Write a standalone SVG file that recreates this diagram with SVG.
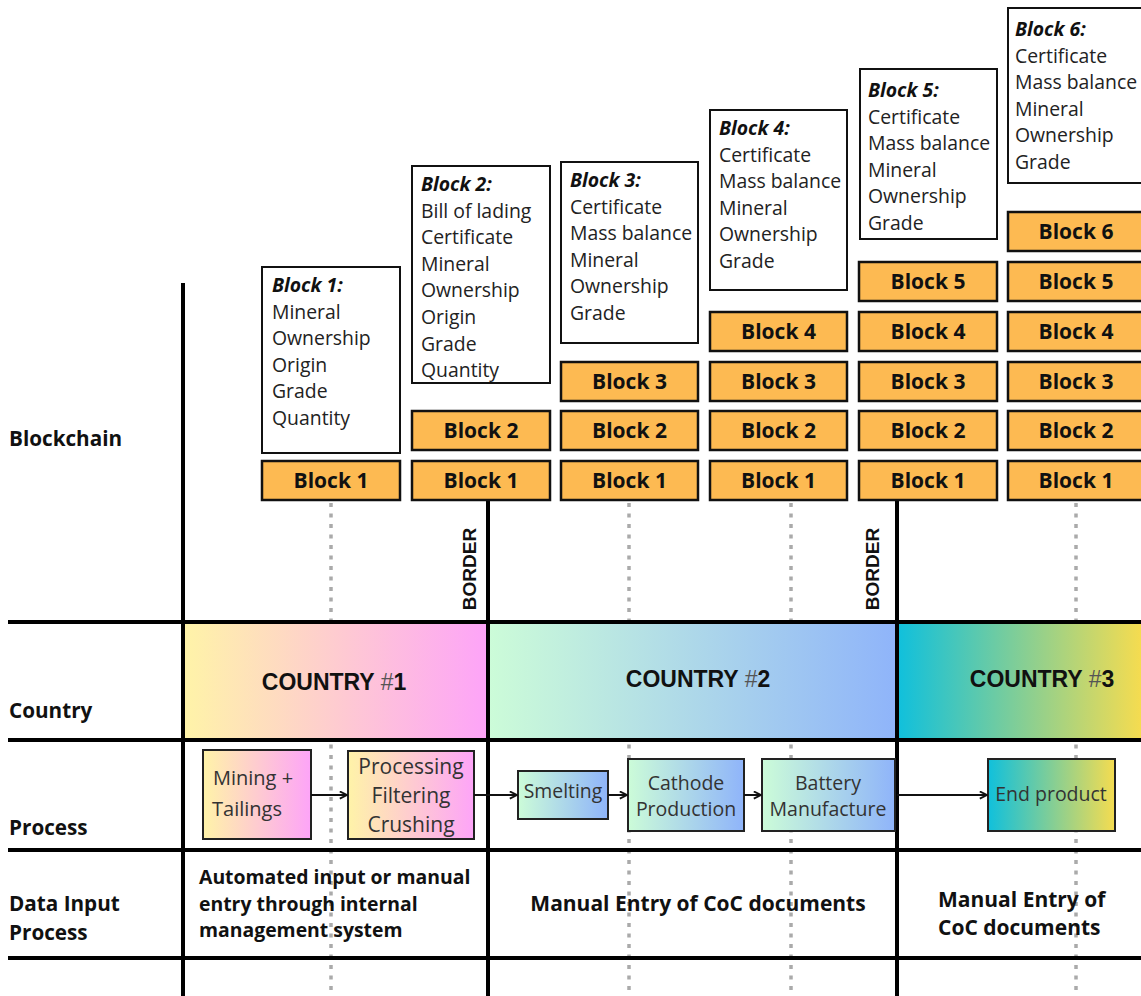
<svg xmlns="http://www.w3.org/2000/svg" width="1141" height="996" viewBox="0 0 1141 996">
<defs>
<linearGradient id="gC1" x1="0" y1="0" x2="1" y2="0"><stop offset="0" stop-color="#FFF3A8"/><stop offset="1" stop-color="#FDA4F8"/></linearGradient>
<linearGradient id="gC2" x1="0" y1="0" x2="1" y2="0"><stop offset="0" stop-color="#CCFCD8"/><stop offset="1" stop-color="#8FB4FA"/></linearGradient>
<linearGradient id="gC3" x1="0" y1="0" x2="1" y2="0"><stop offset="0" stop-color="#10C0DC"/><stop offset="1" stop-color="#F5DC50"/></linearGradient>
<marker id="ah" viewBox="0 0 10 10" refX="9" refY="5" markerWidth="9" markerHeight="9" markerUnits="userSpaceOnUse" orient="auto"><path d="M1,1 L9,5 L1,9" fill="none" stroke="#111" stroke-width="2"/></marker>
<style>
.line{stroke:#000;stroke-width:4}
.dot{stroke:#aaa;stroke-width:3.5;stroke-dasharray:4 6.5}
.desc{fill:#fff;stroke:#111;stroke-width:2}
.blk{fill:#FDBA52;stroke:#111;stroke-width:2.5}
.blkt{font-family:"Open Sans",sans-serif;font-weight:700;font-size:21px;text-anchor:middle;fill:#111}
.dt{font-family:"Open Sans",sans-serif;font-size:19.4px;fill:#222}
.dtt{font-weight:700;font-style:italic;fill:#111}
.lab{font-family:"Open Sans",sans-serif;font-weight:700;font-size:20.7px;fill:#111}
.din{font-family:"Open Sans",sans-serif;font-weight:700;font-size:21px;fill:#111}
.ctry{font-family:"Liberation Sans",sans-serif;font-weight:700;font-size:23px;text-anchor:middle;fill:#111}
.hash{font-weight:400;fill:#555}
.proc{stroke:#222;stroke-width:2}
.pt{font-family:"Open Sans",sans-serif;font-size:20px;fill:#333}
.ptc{text-anchor:middle}
.border{font-family:"Liberation Sans",sans-serif;font-weight:700;font-size:19px;fill:#111;text-anchor:middle}
.arrow{stroke:#111;stroke-width:2;fill:none;marker-end:url(#ah)}
</style>
</defs>
<rect width="1141" height="996" fill="#fff"/>

<g id="dotted-guides">
<line class="dot" x1="331" y1="503" x2="331" y2="996"/>
<line class="dot" x1="629" y1="503" x2="629" y2="996"/>
<line class="dot" x1="791" y1="503" x2="791" y2="996"/>
<line class="dot" x1="1076" y1="503" x2="1076" y2="996"/>
</g>

<g id="countries">
<g id="country1"><rect x="185" y="624" width="302" height="114" fill="url(#gC1)"/><text class="ctry" x="334" y="690">COUNTRY <tspan class="hash">#</tspan>1</text></g>
<g id="country2"><rect x="489" y="624" width="408" height="114" fill="url(#gC2)"/><text class="ctry" x="698" y="687">COUNTRY <tspan class="hash">#</tspan>2</text></g>
<g id="country3"><rect x="898" y="624" width="243" height="114" fill="url(#gC3)"/><text class="ctry" x="1042" y="687">COUNTRY <tspan class="hash">#</tspan>3</text></g>
</g>

<g id="grid">
<line class="line" x1="8" y1="622" x2="1141" y2="622"/>
<line class="line" x1="8" y1="740" x2="1141" y2="740"/>
<line class="line" x1="8" y1="850" x2="1141" y2="850"/>
<line class="line" x1="8" y1="958" x2="1141" y2="958"/>
<line class="line" x1="183" y1="283" x2="183" y2="996"/>
<line class="line" x1="488" y1="500" x2="488" y2="996"/>
<line class="line" x1="897" y1="500" x2="897" y2="996"/>
</g>

<g id="row-labels">
<text class="lab" x="9" y="446">Blockchain</text>
<text class="lab" x="9" y="718">Country</text>
<text class="lab" x="9" y="835">Process</text>
<text class="lab" x="9" y="911">Data Input</text>
<text class="lab" x="9" y="940">Process</text>
</g>

<g id="border-labels">
<text class="border" transform="translate(476,569) rotate(-90)">BORDER</text>
<text class="border" transform="translate(879,569) rotate(-90)">BORDER</text>
</g>

<g id="desc-block1"><rect class="desc" x="262" y="267" width="138" height="186"/>
<text class="dt" x="272" y="292"><tspan class="dtt">Block 1:</tspan><tspan x="272" dy="26.6">Mineral</tspan><tspan x="272" dy="26.6">Ownership</tspan><tspan x="272" dy="26.6">Origin</tspan><tspan x="272" dy="26.6">Grade</tspan><tspan x="272" dy="26.6">Quantity</tspan></text></g>
<g id="desc-block2"><rect class="desc" x="412" y="166" width="138" height="217"/>
<text class="dt" x="421" y="191"><tspan class="dtt">Block 2:</tspan><tspan x="421" dy="26.6">Bill of lading</tspan><tspan x="421" dy="26.6">Certificate</tspan><tspan x="421" dy="26.6">Mineral</tspan><tspan x="421" dy="26.6">Ownership</tspan><tspan x="421" dy="26.6">Origin</tspan><tspan x="421" dy="26.6">Grade</tspan><tspan x="421" dy="26.6">Quantity</tspan></text></g>
<g id="desc-block3"><rect class="desc" x="561" y="162" width="137" height="181"/>
<text class="dt" x="570" y="187"><tspan class="dtt">Block 3:</tspan><tspan x="570" dy="26.6">Certificate</tspan><tspan x="570" dy="26.6">Mass balance</tspan><tspan x="570" dy="26.6">Mineral</tspan><tspan x="570" dy="26.6">Ownership</tspan><tspan x="570" dy="26.6">Grade</tspan></text></g>
<g id="desc-block4"><rect class="desc" x="710" y="110" width="137" height="180"/>
<text class="dt" x="719" y="135"><tspan class="dtt">Block 4:</tspan><tspan x="719" dy="26.6">Certificate</tspan><tspan x="719" dy="26.6">Mass balance</tspan><tspan x="719" dy="26.6">Mineral</tspan><tspan x="719" dy="26.6">Ownership</tspan><tspan x="719" dy="26.6">Grade</tspan></text></g>
<g id="desc-block5"><rect class="desc" x="860" y="69" width="137" height="170"/>
<text class="dt" x="868" y="97"><tspan class="dtt">Block 5:</tspan><tspan x="868" dy="26.6">Certificate</tspan><tspan x="868" dy="26.6">Mass balance</tspan><tspan x="868" dy="26.6">Mineral</tspan><tspan x="868" dy="26.6">Ownership</tspan><tspan x="868" dy="26.6">Grade</tspan></text></g>
<g id="desc-block6"><rect class="desc" x="1008" y="8" width="140" height="175"/>
<text class="dt" x="1015" y="36"><tspan class="dtt">Block 6:</tspan><tspan x="1015" dy="26.6">Certificate</tspan><tspan x="1015" dy="26.6">Mass balance</tspan><tspan x="1015" dy="26.6">Mineral</tspan><tspan x="1015" dy="26.6">Ownership</tspan><tspan x="1015" dy="26.6">Grade</tspan></text></g>

<g id="chain1">
<rect class="blk" x="262" y="461" width="138" height="39"/><text class="blkt" x="331" y="488">Block 1</text>
</g>
<g id="chain2">
<rect class="blk" x="412" y="461" width="138" height="39"/><text class="blkt" x="481" y="488">Block 1</text>
<rect class="blk" x="412" y="411" width="138" height="39"/><text class="blkt" x="481" y="438">Block 2</text>
</g>
<g id="chain3">
<rect class="blk" x="561" y="461" width="137" height="39"/><text class="blkt" x="629.5" y="488">Block 1</text>
<rect class="blk" x="561" y="411" width="137" height="39"/><text class="blkt" x="629.5" y="438">Block 2</text>
<rect class="blk" x="561" y="362" width="137" height="39"/><text class="blkt" x="629.5" y="389">Block 3</text>
</g>
<g id="chain4">
<rect class="blk" x="710" y="461" width="137" height="39"/><text class="blkt" x="778.5" y="488">Block 1</text>
<rect class="blk" x="710" y="411" width="137" height="39"/><text class="blkt" x="778.5" y="438">Block 2</text>
<rect class="blk" x="710" y="362" width="137" height="39"/><text class="blkt" x="778.5" y="389">Block 3</text>
<rect class="blk" x="710" y="312" width="137" height="39"/><text class="blkt" x="778.5" y="339">Block 4</text>
</g>
<g id="chain5">
<rect class="blk" x="859" y="461" width="138" height="39"/><text class="blkt" x="928" y="488">Block 1</text>
<rect class="blk" x="859" y="411" width="138" height="39"/><text class="blkt" x="928" y="438">Block 2</text>
<rect class="blk" x="859" y="362" width="138" height="39"/><text class="blkt" x="928" y="389">Block 3</text>
<rect class="blk" x="859" y="312" width="138" height="39"/><text class="blkt" x="928" y="339">Block 4</text>
<rect class="blk" x="859" y="262" width="138" height="39"/><text class="blkt" x="928" y="289">Block 5</text>
</g>
<g id="chain6">
<rect class="blk" x="1008" y="461" width="140" height="39"/><text class="blkt" x="1076" y="488">Block 1</text>
<rect class="blk" x="1008" y="411" width="140" height="39"/><text class="blkt" x="1076" y="438">Block 2</text>
<rect class="blk" x="1008" y="362" width="140" height="39"/><text class="blkt" x="1076" y="389">Block 3</text>
<rect class="blk" x="1008" y="312" width="140" height="39"/><text class="blkt" x="1076" y="339">Block 4</text>
<rect class="blk" x="1008" y="262" width="140" height="39"/><text class="blkt" x="1076" y="289">Block 5</text>
<rect class="blk" x="1008" y="212" width="140" height="39"/><text class="blkt" x="1076" y="239">Block 6</text>
</g>

<g id="proc-mining"><rect class="proc" x="203" y="750" width="108" height="89" fill="url(#gC1)"/>
<text class="pt" x="213" y="785">Mining +<tspan x="212" dy="31">Tailings</tspan></text></g>
<g id="proc-processing"><rect class="proc" x="348" y="751" width="126" height="88" fill="url(#gC1)"/>
<text class="pt ptc" x="411" y="774" style="font-size:21px">Processing<tspan x="411" dy="29">Filtering</tspan><tspan x="411" dy="29">Crushing</tspan></text></g>
<g id="proc-smelting"><rect class="proc" x="518" y="771" width="90" height="48" fill="url(#gC2)"/>
<text class="pt ptc" x="563" y="798" style="font-size:19.4px">Smelting</text></g>
<g id="proc-cathode"><rect class="proc" x="628" y="759" width="116" height="72" fill="url(#gC2)"/>
<text class="pt ptc" x="686" y="790" style="font-size:19.5px">Cathode<tspan x="686" dy="25.5">Production</tspan></text></g>
<g id="proc-battery"><rect class="proc" x="762" y="759" width="133" height="72" fill="url(#gC2)"/>
<text class="pt ptc" x="828" y="790" style="font-size:19.5px">Battery<tspan x="828" dy="25.5">Manufacture</tspan></text></g>
<g id="proc-end"><rect class="proc" x="988" y="759" width="127" height="72" fill="url(#gC3)"/>
<text class="pt ptc" x="1051" y="801" style="font-size:19.5px">End product</text></g>

<g id="connectors">
<line class="arrow" x1="311" y1="795" x2="347" y2="795"/>
<line class="arrow" x1="474" y1="795" x2="517" y2="795"/>
<line class="arrow" x1="608" y1="795" x2="627" y2="795"/>
<line class="arrow" x1="744" y1="795" x2="761" y2="795"/>
<line class="arrow" x1="897" y1="795" x2="987" y2="795"/>
</g>

<g id="data-input">
<text class="din" x="199" y="884" style="font-size:19.4px">Automated input or manual<tspan x="199" dy="26.5">entry through internal</tspan><tspan x="199" dy="26.5">management system</tspan></text>
<text class="din" x="698" y="911" text-anchor="middle">Manual Entry of CoC documents</text>
<text class="din" x="938" y="907">Manual Entry of<tspan x="938" dy="28">CoC documents</tspan></text>
</g>
</svg>
